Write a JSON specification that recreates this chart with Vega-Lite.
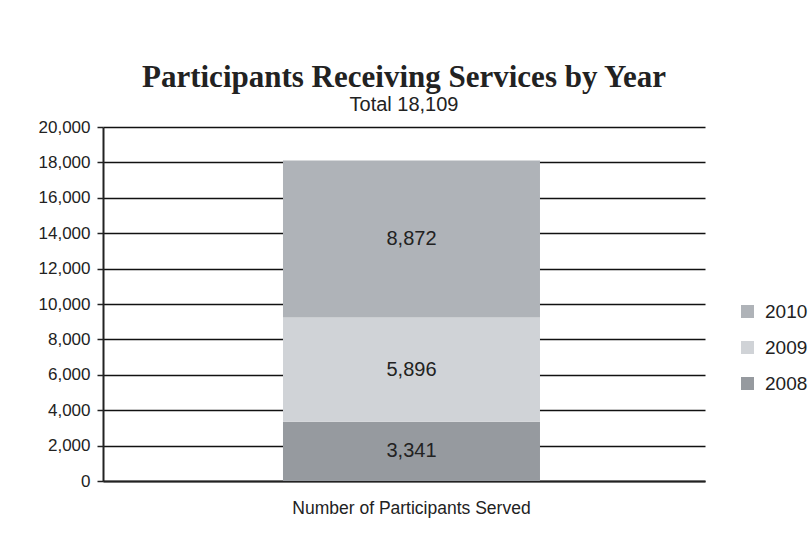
{
  "$schema": "https://vega.github.io/schema/vega-lite/v6.json",
  "width": 602,
  "height": 354,
  "padding": {"left": 38, "top": 62, "right": 5, "bottom": 5},
  "background": "white",
  "title": {
    "text": "Participants Receiving Services by Year",
    "subtitle": "Total 18,109",
    "font": "Liberation Serif",
    "fontSize": 31,
    "fontWeight": "bold",
    "color": "#222222",
    "subtitleFont": "Liberation Sans",
    "subtitleFontSize": 20,
    "subtitleColor": "#222222",
    "subtitlePadding": 1,
    "offset": 2,
    "anchor": "middle"
  },
  "data": {
    "values": [
      {"category": "Number of Participants Served", "year": "2008", "count": 3341},
      {"category": "Number of Participants Served", "year": "2009", "count": 5896},
      {"category": "Number of Participants Served", "year": "2010", "count": 8872}
    ]
  },
  "encoding": {
    "x": {
      "field": "category",
      "type": "nominal",
      "title": null,
      "scale": {"paddingInner": 0, "paddingOuter": 0.6712, "align": 0.5217},
      "axis": {
        "labelAngle": 0,
        "ticks": false,
        "labelPadding": 18,
        "labelLimit": 600,
        "labelFont": "Liberation Sans",
        "labelFontSize": 17.5,
        "labelColor": "#222222",
        "domainColor": "#222222",
        "domainWidth": 2
      }
    },
    "y": {
      "field": "count",
      "type": "quantitative",
      "stack": "zero",
      "title": null,
      "scale": {"domain": [0, 20000]},
      "axis": {
        "values": [0, 2000, 4000, 6000, 8000, 10000, 12000, 14000, 16000, 18000, 20000],
        "labelOverlap": false,
        "format": ",d",
        "grid": true,
        "gridColor": "#111111",
        "gridWidth": 1.5,
        "gridOpacity": 1,
        "domainColor": "#222222",
        "domainWidth": 2,
        "tickColor": "#222222",
        "tickSize": 6,
        "tickWidth": 1.5,
        "labelPadding": 7,
        "labelFont": "Liberation Sans",
        "labelFontSize": 17,
        "labelColor": "#222222"
      }
    },
    "order": {"field": "year", "sort": "ascending"}
  },
  "layer": [
    {
      "mark": {"type": "bar"},
      "encoding": {
        "color": {
          "field": "year",
          "type": "nominal",
          "title": null,
          "scale": {
            "domain": ["2010", "2009", "2008"],
            "range": ["#afb3b8", "#d0d3d7", "#969a9f"]
          },
          "legend": {
            "orient": "none",
            "legendX": 635,
            "legendY": 175,
            "symbolType": "square",
            "symbolSize": 169,
            "symbolStrokeWidth": 0,
            "labelFont": "Liberation Sans",
            "labelFontSize": 19,
            "labelColor": "#222222",
            "labelOffset": 8,
            "rowPadding": 16
          }
        }
      }
    },
    {
      "mark": {
        "type": "text",
        "font": "Liberation Sans",
        "fontSize": 20,
        "color": "#222222",
        "baseline": "middle",
        "dy": {"expr": "datum.count / 2 * height / 20000"}
      },
      "encoding": {
        "detail": {"field": "year"},
        "text": {"field": "count", "type": "quantitative", "format": ","}
      }
    }
  ],
  "config": {
    "view": {"stroke": null}
  }
}
